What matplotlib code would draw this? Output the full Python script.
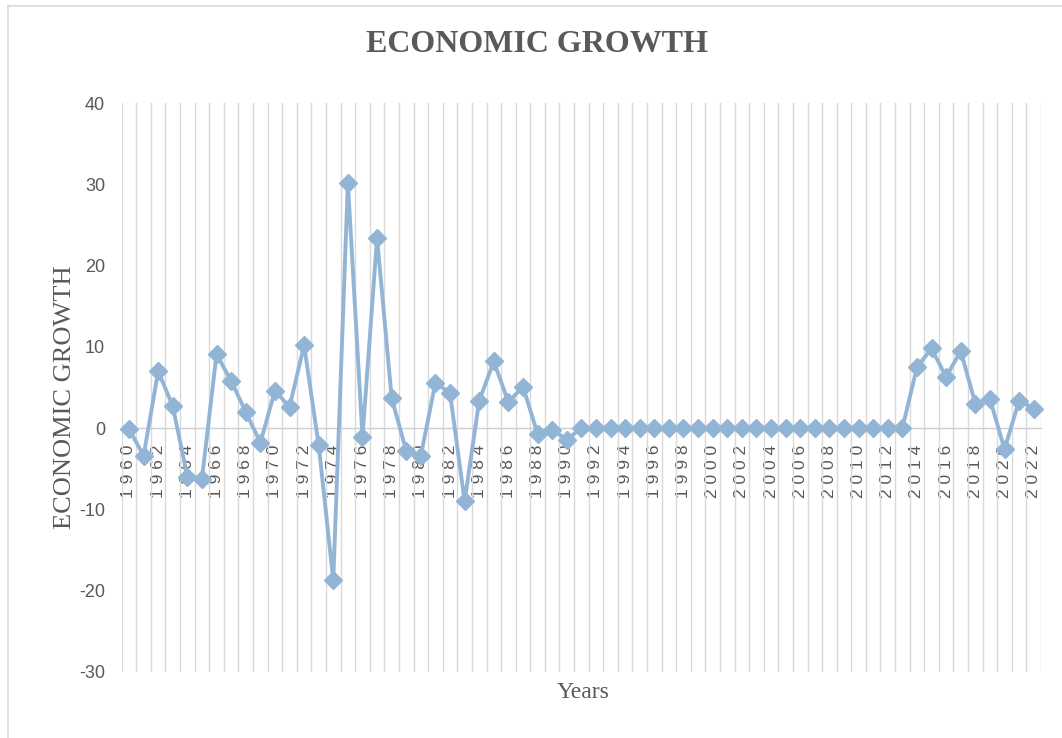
import matplotlib
matplotlib.use("Agg")
import matplotlib.pyplot as plt
from matplotlib.lines import Line2D
import numpy as np

# Annual economic growth (%), 1960-2022
years = list(range(1960, 2023))
growth = [
    -0.1, -3.4, 7.0, 2.7, -6.0, -6.2, 9.1, 5.8, 2.0, -1.8,     # 1960-1969
    4.6, 2.6, 10.2, -2.1, -18.7, 30.2, -1.1, 23.4, 3.7, -2.8,  # 1970-1979
    -3.4, 5.6, 4.3, -9.0, 3.4, 8.2, 3.2, 5.1, -0.7, -0.2,      # 1980-1989
    -1.4, 0, 0, 0, 0, 0, 0, 0, 0, 0,                           # 1990-1999
    0, 0, 0, 0, 0, 0, 0, 0, 0, 0,                              # 2000-2009
    0, 0, 0, 0, 7.5, 9.8, 6.3, 9.5, 3.0, 3.6,                  # 2010-2019
    -2.6, 3.4, 2.4,                                            # 2020-2022
]
y_ticks = [-30, -20, -10, 0, 10, 20, 30, 40]

W, H = 1062, 738
fig = plt.figure(figsize=(W / 100, H / 100), dpi=100)
fig.patch.set_facecolor("white")

# chart-area frame (left and top edges)
frame_kw = dict(color="#D9D9D9", linewidth=1.2, transform=fig.transFigure)
fig.add_artist(Line2D([8 / W, 8 / W], [0, 1 - 6 / H], **frame_kw))
fig.add_artist(Line2D([8 / W, 1], [1 - 6 / H, 1 - 6 / H], **frame_kw))

left, right, top, bottom = 121.7, 1041.0, 103.0, 672.0
ax = fig.add_axes([left / W, 1 - bottom / H, (right - left) / W, (bottom - top) / H])

x = np.arange(len(years))
line_color = "#92B5D6"
ax.plot(x, growth, color=line_color, linewidth=2.8, marker="D",
        markersize=9, markerfacecolor=line_color, markeredgecolor=line_color,
        zorder=3, clip_on=False)

ax.set_xlim(-0.5, len(years) - 0.5)
ax.set_ylim(-30, 40)

# category axis crossing at zero
for side in ("left", "right", "top"):
    ax.spines[side].set_visible(False)
ax.spines["bottom"].set_position(("data", 0))
ax.spines["bottom"].set_color("#CFCFCF")
ax.spines["bottom"].set_linewidth(1.0)
ax.spines["bottom"].set_zorder(2)

label_idx = x[::2]
ax.set_xticks(label_idx)
ax.set_xticklabels([" ".join(str(years[i])) for i in label_idx],
                   rotation=90, family="Liberation Sans", fontsize=12.5,
                   color="#595959")
ax.set_xticks(np.arange(-0.5, len(years), 1.0), minor=True)
ax.tick_params(axis="x", which="both", length=0, pad=12)
ax.grid(which="minor", axis="x", color="#D9D9D9", linewidth=1.0)
ax.set_axisbelow(True)

ax.set_yticks(y_ticks)
ax.set_yticklabels([str(v) for v in y_ticks], family="Liberation Sans",
                   fontsize=13, color="#595959")
ax.tick_params(axis="y", length=0, pad=12)

ax.set_ylabel("ECONOMIC GROWTH", family="Liberation Serif", fontsize=19,
              color="#595959", va="center")
ax.yaxis.set_label_coords((65 - left) / (right - left), (bottom - 397) / (bottom - top))
ax.set_xlabel("Years", family="Liberation Serif", fontsize=17,
              color="#595959", va="center")
ax.xaxis.set_label_coords((583 - left) / (right - left), (bottom - 693) / (bottom - top))

fig.text(537 / W, 1 - 45 / H, "ECONOMIC GROWTH", family="Liberation Serif",
         fontweight="bold", fontsize=23, color="#595959",
         ha="center", va="center")

fig.savefig("out.png", dpi=100, facecolor="white")
